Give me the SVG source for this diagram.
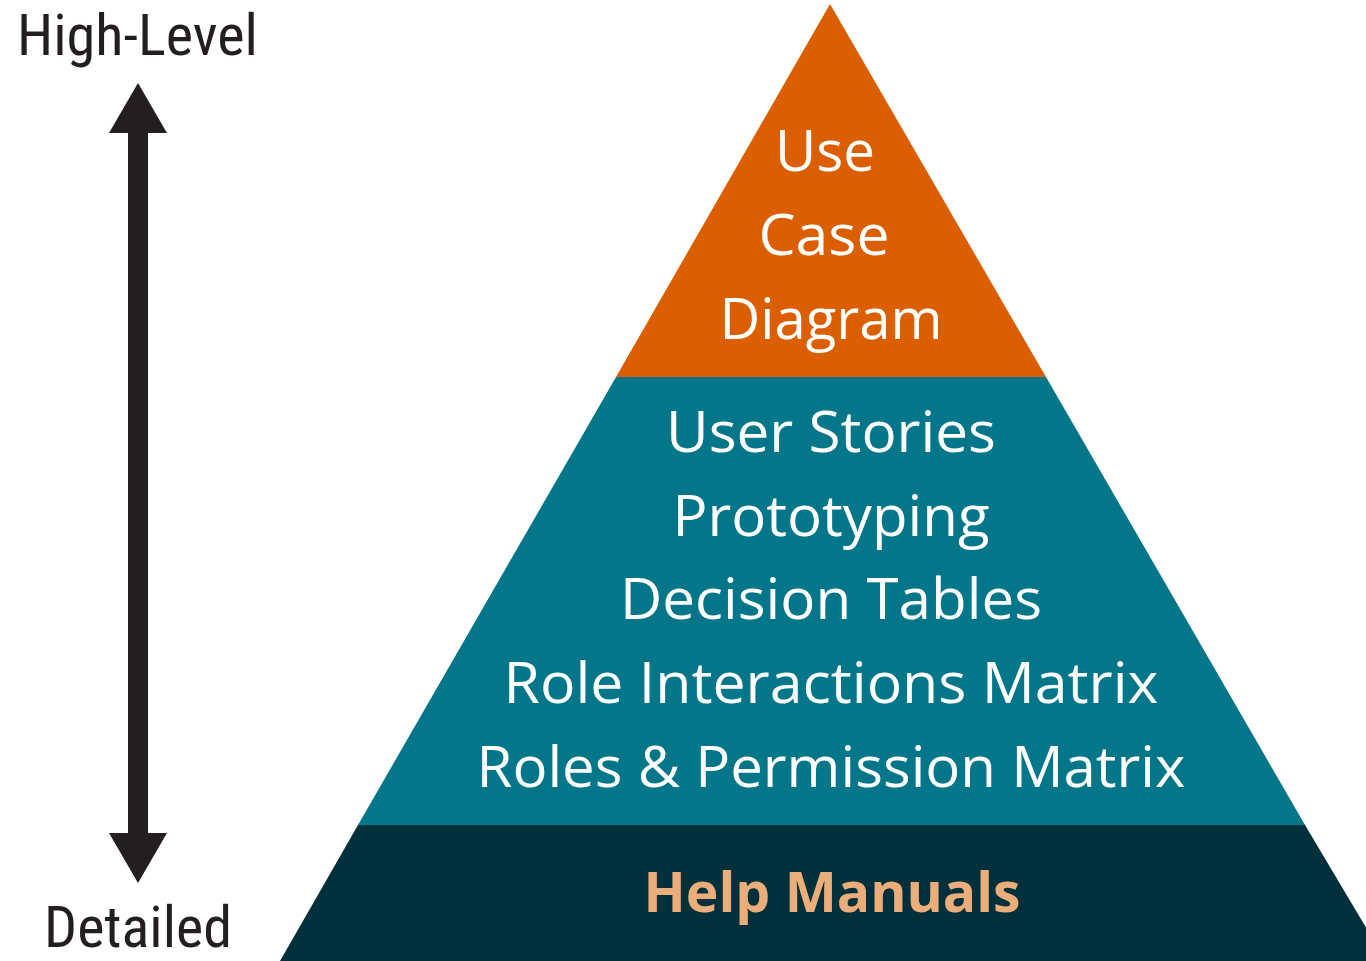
<svg xmlns="http://www.w3.org/2000/svg" width="1366" height="961" viewBox="0 0 1366 961">
<style>
.lbl{font-family:Roboto,"Liberation Sans",sans-serif;font-size:58px;fill:#231F20;font-stretch:condensed}
.w{font-family:"Open Sans","Noto Sans",sans-serif;font-size:56px;fill:#FFFFFF;font-weight:500;text-anchor:middle}
.h{font-family:"Open Sans","Noto Sans",sans-serif;font-size:56px;fill:#EBAE7B;font-weight:700;text-anchor:middle}
</style>
<rect width="1366" height="961" fill="#FFFFFF"/>
<g id="connectors">
<rect x="128" y="128" width="20" height="710" fill="#231F20"/>
<polygon points="138,83 167,133 109,133" fill="#231F20"/>
<polygon points="138,883 167,833 109,833" fill="#231F20"/>
</g>
<g id="label-high">
<text class="lbl" x="17" y="55" textLength="241" lengthAdjust="spacingAndGlyphs">High-Level</text>
</g>
<g id="label-detailed">
<text class="lbl" x="44" y="947" textLength="188" lengthAdjust="spacingAndGlyphs">Detailed</text>
</g>
<g id="tier-bottom">
<polygon points="358,825 1305,825 1386,961 280,961" fill="#00303B"/>
<text class="h" x="832" y="912" textLength="377" lengthAdjust="spacingAndGlyphs">Help Manuals</text>
</g>
<g id="tier-middle">
<polygon points="616,377 1046,377 1305,825 358,825" fill="#03768A"/>
<text class="w" x="831" y="452" textLength="330" lengthAdjust="spacingAndGlyphs">User Stories</text>
<text class="w" x="831" y="536" textLength="317" lengthAdjust="spacingAndGlyphs">Prototyping</text>
<text class="w" x="831" y="619" textLength="422" lengthAdjust="spacingAndGlyphs">Decision Tables</text>
<text class="w" x="831" y="703" textLength="655" lengthAdjust="spacingAndGlyphs">Role Interactions Matrix</text>
<text class="w" x="831" y="787" textLength="709" lengthAdjust="spacingAndGlyphs">Roles &amp; Permission Matrix</text>
</g>
<g id="tier-top">
<polygon points="830,4 1046,377 616,377" fill="#DB5E00"/>
<text class="w" x="825" y="171" textLength="100" lengthAdjust="spacingAndGlyphs">Use</text>
<text class="w" x="824" y="255" textLength="131" lengthAdjust="spacingAndGlyphs">Case</text>
<text class="w" x="831" y="339" textLength="223" lengthAdjust="spacingAndGlyphs">Diagram</text>
</g>
</svg>
